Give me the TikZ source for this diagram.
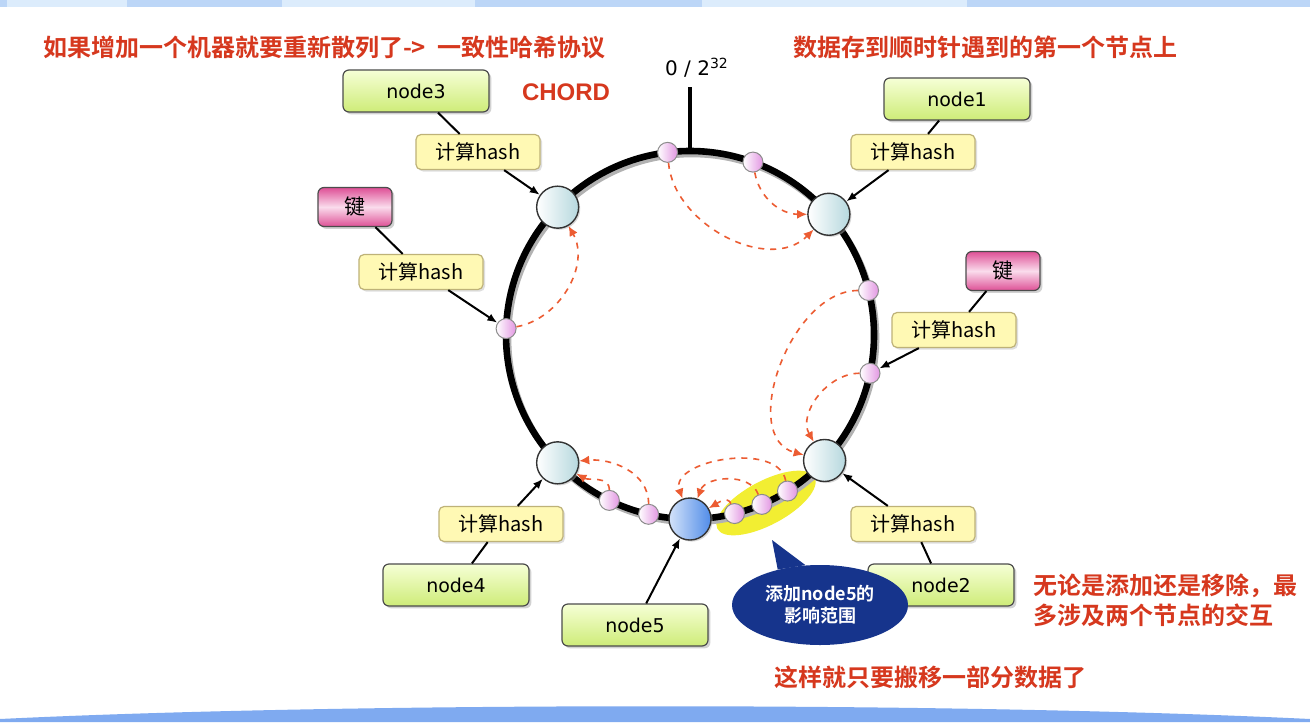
\documentclass[tikz,border=0pt]{standalone}
\usepackage{fontspec}
\newfontfamily\cjk{Noto Sans CJK SC}[BoldFont={* Bold}]
\newfontfamily\dvs{DejaVu Sans}
\newfontfamily\lib{Liberation Sans}
\usetikzlibrary{arrows.meta,shadows,calc,shapes.geometric}

\definecolor{titlered}{RGB}{214,56,30}
\definecolor{moveorange}{RGB}{236,92,50}
\definecolor{navyblue}{RGB}{22,52,140}
\definecolor{hotyellow}{RGB}{242,238,50}
\definecolor{greentop}{RGB}{246,255,214}
\definecolor{greenbot}{RGB}{206,236,120}
\definecolor{hashfill}{RGB}{255,249,180}
\definecolor{hashline}{RGB}{190,178,120}
\definecolor{keypink}{RGB}{222,80,150}
\definecolor{keylight}{RGB}{250,220,236}
\definecolor{servblue}{RGB}{182,216,222}
\definecolor{nodeblue}{RGB}{80,140,232}
\definecolor{dotpink}{RGB}{226,150,226}
\definecolor{bandlight}{RGB}{220,236,252}
\definecolor{banddark}{RGB}{188,214,247}
\definecolor{bandblue}{RGB}{127,170,240}

\begin{document}
\begin{tikzpicture}[x=0.5pt,y=0.5pt,
    nodebox/.style={draw=black!70, line width=0.6pt, rounded corners=3pt,
        top color=greentop, bottom color=greenbot,
        minimum width=73pt, minimum height=21pt, inner sep=0pt,
        font=\dvs\fontsize{9.5}{11}\selectfont,
        drop shadow={shadow xshift=1.2pt,shadow yshift=-1.2pt,fill=black!35}},
    hashbox/.style={draw=hashline, line width=0.6pt, rounded corners=2.5pt,
        fill=hashfill, minimum width=62pt, minimum height=17.5pt, inner sep=0pt,
        font=\cjk\fontsize{10}{12}\selectfont,
        drop shadow={shadow xshift=1pt,shadow yshift=-1pt,fill=black!25}},
    keybox/.style={draw=black!70, line width=0.6pt, rounded corners=3pt,
        top color=keypink, bottom color=keypink, middle color=keylight,
        minimum width=37pt, minimum height=19.5pt, inner sep=0pt,
        font=\cjk\fontsize{10.5}{12}\selectfont,
        drop shadow={shadow xshift=1.2pt,shadow yshift=-1.2pt,fill=black!35}},
    server/.style={circle, draw=black!80, line width=0.7pt, minimum size=21pt,
        inner sep=0pt, left color=white, right color=servblue,
        drop shadow={shadow xshift=0.8pt,shadow yshift=-0.8pt,fill=black!30}},
    keydot/.style={circle, draw=black!45, line width=0.5pt, minimum size=10pt,
        inner sep=0pt, left color=white, right color=dotpink},
    link/.style={line width=1pt},
    hashed/.style={line width=1pt, -{Latex[length=5pt,width=4pt]}},
    move/.style={draw=moveorange, dashed, line width=0.8pt,
        -{Latex[length=5pt,width=4.5pt]}},
    redtext/.style={text=titlered, font=\cjk\bfseries\fontsize{12}{15}\selectfont}]

% frame
\useasboundingbox (0,0) rectangle (1310,-722);
\fill[white] (0,0) rectangle (1310,-722);
\fill[banddark] (0,0) rectangle (1310,-7);
\fill[bandlight] (7,0) rectangle (127,-7);
\fill[bandlight] (282,0) rectangle (475,-7);
\fill[bandlight] (702,0) rectangle (967,-7);
\fill[bandblue] (0,-722) -- (0,-719) .. controls (350,-702) and (960,-702) .. (1310,-719) -- (1310,-722) -- cycle;

% texts
\node[redtext, anchor=west] (title) at (36,-47) {如果增加一个机器就要重新散列了-> \ 一致性哈希协议};
\node[redtext, anchor=west] (rule) at (786,-47) {数据存到顺时针遇到的第一个节点上};
\node[text=titlered, font=\lib\bfseries\fontsize{12}{14}\selectfont, anchor=west] (chord) at (515,-92) {CHORD};
\node[redtext, anchor=west, align=left] (note) at (1026,-600) {无论是添加还是移除，最\\多涉及两个节点的交互};
\node[redtext] (move) at (930,-677) {这样就只要搬移一部分数据了};

% ring
\coordinate (o) at (690,-335);
\fill[hotyellow, rotate around={28:(766,-503)}] (766,-503) ellipse (55 and 22);
\draw[black!30, line width=3.3pt] ($(o)+(2,-3)$) circle (184);
\draw[line width=3.3pt] (o) circle (184);
\coordinate (tickend) at (690,-87);
\draw[line width=2.4pt] ($(o)+(90:184)$) -- (tickend);
\node[font=\dvs\fontsize{10}{12}\selectfont] (zero) at (697,-68) {0 / 2\textsuperscript{32}};

% servers
\node[server] (c1) at ($(o)+(41:184)$) {};
\node[server] (c2) at ($(o)+(-43:184)$) {};
\node[server] (c3) at ($(o)+(136:184)$) {};
\node[server] (c4) at ($(o)+(224:184)$) {};
\node[server, left color=nodeblue!25, right color=nodeblue] (c5) at ($(o)+(270:184)$) {};

% keys on the ring
\node[keydot] (k1) at ($(o)+(97:184)$) {};
\node[keydot] (k2) at ($(o)+(70:184)$) {};
\node[keydot] (k3) at ($(o)+(178:184)$) {};
\node[keydot] (k4) at ($(o)+(14:184)$) {};
\node[keydot] (k5) at ($(o)+(-12:184)$) {};
\node[keydot] (k6) at ($(o)+(244:184)$) {};
\node[keydot] (k7) at ($(o)+(257:184)$) {};
\node[keydot] (k8) at ($(o)+(284:184)$) {};
\node[keydot] (k9) at ($(o)+(293:184)$) {};
\node[keydot] (k10) at ($(o)+(302:184)$) {};

% boxes
\node[nodebox] (n3) at (416,-91) {node3};
\node[hashbox] (h3) at (478,-152) {计算hash};
\node[keybox] (kl) at (355,-207) {键};
\node[hashbox] (hl) at (421,-272) {计算hash};
\node[nodebox] (n1) at (957,-99) {node1};
\node[hashbox] (h1) at (913,-152) {计算hash};
\node[keybox] (kr) at (1003,-271) {键};
\node[hashbox] (hr) at (954,-330) {计算hash};
\node[nodebox] (n2) at (941,-585) {node2};
\node[hashbox] (h2) at (913,-524) {计算hash};
\node[nodebox] (n4) at (456,-585) {node4};
\node[hashbox] (h4) at (501,-524) {计算hash};
\node[nodebox] (n5) at (635,-625) {node5};

% hashing links
\draw[link] (n3) -- (h3);
\draw[hashed] (h3) -- (c3);
\draw[link] (kl) -- (hl);
\draw[hashed] (hl) -- (k3);
\draw[link] (n1) -- (h1);
\draw[hashed] (h1) -- (c1);
\draw[link] (kr) -- (hr);
\draw[hashed] (hr) -- (k5);
\draw[link] (n2) -- (h2);
\draw[hashed] (h2) -- (c2);
\draw[link] (n4) -- (h4);
\draw[hashed] (h4) -- (c4);
\draw[hashed] (n5) -- (c5);

% keys move clockwise
\draw[move] (k3) to[out=10,in=-60] (c3);
\draw[move] (k1) to[out=-85,in=-135] (c1);
\draw[move] (k2) to[out=-80,in=180] (c1);
\draw[move] (k4) to[out=180,in=165] (c2);
\draw[move] (k5) to[out=180,in=120] (c2);
\draw[move] (k7) to[out=90,in=5] (c4);
\draw[move] (k6) to[out=90,in=-30] (c4);
\draw[move] (k10) to[out=100,in=110] (c5);
\draw[move] (k9) to[out=110,in=70] (c5);
\draw[move] (k8) to[out=110,in=30] (c5);

% bubble
\node[ellipse, fill=navyblue, minimum width=88pt, minimum height=40pt, inner sep=0pt,
      text=white, align=center, font=\cjk\bfseries\fontsize{9}{11}\selectfont] (range) at (820,-605)
      {添加node5的\\影响范围};
\coordinate (pointer) at (772,-540);
\fill[navyblue] (pointer) -- (range.140) -- (range.110) -- cycle;
\end{tikzpicture}
\end{document}
